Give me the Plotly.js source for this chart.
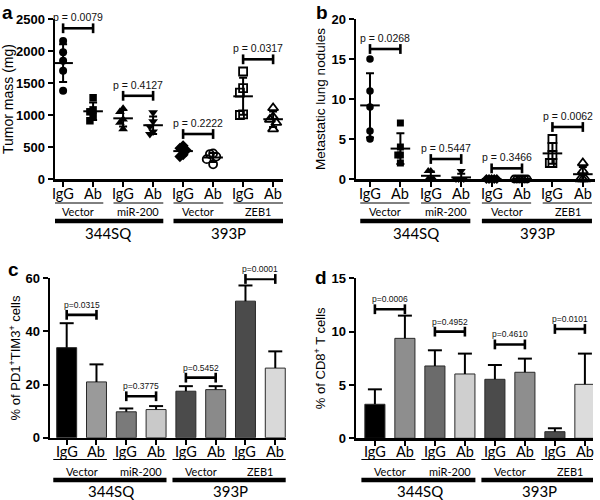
<!DOCTYPE html>
<html>
<head>
<meta charset="utf-8">
<script src="https://cdn.plot.ly/plotly-3.0.1.min.js"></script>
<style>html,body{margin:0;padding:0;background:#fff}#chart{width:600px;height:500px}</style>
</head>
<body>
<div id="chart"></div>
<script>
// ---------- categories / labels ----------
const treatLabels = ["IgG","Ab","IgG","Ab","IgG","Ab","IgG","Ab"];
const pairLabels = ["Vector","miR-200","Vector","ZEB1"];
const lineLabels = ["344SQ","393P"];

// ---------- panel a: tumor mass (mg), individual mice ----------
const massSQVecIgG = [2156,1979,1849,1693,1380];
const massSQVecAb  = [1270,1080,1050,980,910];
const massSQMirIgG = [1100,1050,930,880,780];
const massSQMirAb  = [1040,900,820,740,700];
const massPVecIgG  = [520,480,450,380,350];
const massPVecAb   = [400,390,350,310,230];
const massPZebIgG  = [1680,1420,1350,1010,1000];
const massPZebAb   = [1110,970,930,880,780];
const massP = ["p = 0.0079","p = 0.4127","p = 0.2222","p = 0.0317"];
const massBracket = [2355,1300,703,1870];

// ---------- panel b: metastatic lung nodules ----------
const nodSQVecIgG = [15,11,9,6,5];
const nodSQVecAb  = [7,4,3,3,2];
const nodSQMirIgG = [1,1,0,0,0];
const nodSQMirAb  = [1,0,0,0,0];
const nodPVecIgG  = [0,0,0,0,0];
const nodPVecAb   = [0,0,0,0,0,0];
const nodPZebIgG  = [5,4,3,2,2];
const nodPZebAb   = [2,1,0,0,0];
const nodP = ["p = 0.0268","p = 0.5447","p = 0.3466","p = 0.0062"];
const nodBracket = [16.25,2.5,1.33,6.5];

// ---------- panel c: % PD1+TIM3+ cells (mean, error) ----------
const pdMean = [33.9,21.0,9.75,10.6,17.5,18.1,51.4,26.2];
const pdErr  = [9.2,6.6,1.25,1.3,1.9,1.3,5.9,6.3];
const pdP = ["p=0.0315","p=0.3775","p=0.5452","p=0.0001"];
const pdBracket = [46.25,15.6,22.6,59.75];

// ---------- panel d: % CD8+ T cells ----------
const cdMean = [3.19,9.37,6.78,6.03,5.53,6.19,0.62,5.06];
const cdErr  = [1.40,2.13,1.47,1.91,1.34,1.28,0.32,2.88];
const cdP = ["p=0.0006","p=0.4952","p=0.4610","p=0.0101"];
const cdBracket = [12.1,10.0,8.8,10.25];

// ---------- styles ----------
const symbols = ['circle','square','triangle-up','triangle-down','diamond','circle-open','square-open','triangle-up-open'];
const symSizesA = [8,7.5,8.5,8.5,8.5,8,8,9];
const symSizesB = [7.5,7,8,8,7.5,7,8,9];
const barColorsC = ['#000000','#9a9a9a','#7a7a7a','#c9c9c9','#4b4b4b','#8a8a8a','#4b4b4b','#d9d9d9'];
const barColorsD = ['#000000','#8e8e8e','#6b6b6b','#cfcfcf','#4b4b4b','#8e8e8e','#4b4b4b','#dcdcdc'];

const cats = treatLabels.map((_, i) => i);
const mean = a => a.reduce((s, v) => s + v, 0) / a.length;
const sd = a => { const m = mean(a); return Math.sqrt(a.reduce((s, v) => s + (v - m) * (v - m), 0) / (a.length - 1)); };

// simple collision-avoiding horizontal spread (in category units)
function swarm(vals, pxPerY, pxPerX, step, diam) {
  const placed = []; const offs = new Array(vals.length).fill(0);
  const order = vals.map((v, i) => i).sort((a, b) => vals[b] - vals[a]);
  for (const i of order) {
    const ypx = vals[i] * pxPerY;
    for (let k = 0; k < 60; k++) {
      const c = (k === 0 ? 0 : (k % 2 ? -Math.ceil(k / 2) : Math.ceil(k / 2))) * step;
      const ok = placed.every(p => Math.abs(p.y - ypx) >= diam * 0.8 || Math.abs(p.x - c) >= step * 0.99);
      if (ok) { placed.push({x: c, y: ypx}); offs[i] = c / pxPerX; break; }
    }
  }
  return offs;
}

const traces = [];
function scatterPanel(groups, sizes, xa, ya, pxPerY, pxPerX, step) {
  groups.forEach((g, i) => {
    const offs = swarm(g, pxPerY, pxPerX, step, 8);
    traces.push({
      type: 'scatter', mode: 'markers', xaxis: xa, yaxis: ya, cliponaxis: false,
      x: g.map((v, j) => i + offs[j]), y: g, hoverinfo: 'y',
      marker: {symbol: symbols[i], size: sizes[i], color: '#000',
               line: {color: '#000', width: symbols[i].endsWith('open') ? 1.8 : 0}},
      showlegend: false
    });
  });
  traces.push({
    type: 'scatter', mode: 'markers', xaxis: xa, yaxis: ya, cliponaxis: false,
    x: cats, y: groups.map(mean),
    error_y: {type: 'data', array: groups.map(sd), visible: true, color: '#000', thickness: 2, width: 4},
    marker: {symbol: 'line-ew', size: 14, color: '#000', line: {color: '#000', width: 2}},
    showlegend: false
  });
}
function barPanel(means, errs, colors, xa, ya) {
  traces.push({
    type: 'bar', xaxis: xa, yaxis: ya, x: cats, y: means, width: 0.67,
    marker: {color: colors, line: {color: '#2a2a2a', width: 1}}, showlegend: false
  });
  traces.push({
    type: 'scatter', mode: 'markers', xaxis: xa, yaxis: ya, cliponaxis: false,
    x: cats, y: means.map((m, i) => m + errs[i]),
    error_y: {type: 'data', symmetric: false, array: errs.map(() => 0), arrayminus: errs,
              visible: true, color: '#000', thickness: 2, width: 0},
    marker: {symbol: 'line-ew', size: 10, color: '#000', line: {color: '#000', width: 2}},
    showlegend: false
  });
}
const annotations = [];
function brackets(hs, texts, xa, ya, fsize) {
  const bx = [], by = [];
  hs.forEach((h, k) => { bx.push(2 * k, 2 * k + 1, null); by.push(h, h, null); });
  traces.push({
    type: 'scatter', mode: 'lines+markers', xaxis: xa, yaxis: ya, cliponaxis: false,
    x: bx, y: by, line: {color: '#000', width: 2.6},
    marker: {symbol: 'line-ns', size: 7, color: '#000', line: {color: '#000', width: 2.6}},
    hoverinfo: 'skip', showlegend: false
  });
  hs.forEach((h, k) => annotations.push({
    xref: xa, yref: ya, x: 2 * k + 0.5, y: h, yanchor: 'bottom', yshift: 3, showarrow: false,
    text: texts[k], font: {family: 'Liberation Sans, Arial', size: fsize, color: '#111'}
  }));
}

scatterPanel([massSQVecIgG, massSQVecAb, massSQMirIgG, massSQMirAb, massPVecIgG, massPVecAb, massPZebIgG, massPZebAb], symSizesA, 'x', 'y', 160 / 2500, 30, 3.2);
brackets(massBracket, massP, 'x', 'y', 10.5);
scatterPanel([nodSQVecIgG, nodSQVecAb, nodSQMirIgG, nodSQMirAb, nodPVecIgG, nodPVecAb, nodPZebIgG, nodPZebAb], symSizesB, 'x2', 'y2', 160 / 20, 30.4, 2.6);
brackets(nodBracket, nodP, 'x2', 'y2', 10.5);
barPanel(pdMean, pdErr, barColorsC, 'x3', 'y3');
brackets(pdBracket, pdP, 'x3', 'y3', 8.5);
barPanel(cdMean, cdErr, barColorsD, 'x4', 'y4');
brackets(cdBracket, cdP, 'x4', 'y4', 8.5);

// ---------- category labels, group lines and texts under the x axes ----------
const shapes = [];
function groupLabels(xa, yTreat, yThin, yPair, yThick, yLine, lo, hi) {
  treatLabels.forEach((t, i) => annotations.push({
    xref: xa, yref: 'paper', x: i, y: 1 - yTreat / 500, yanchor: 'middle', showarrow: false,
    text: t, font: {family: 'Lato, Open Sans', size: 14.5, color: '#000'}
  }));
  for (let k = 0; k < 4; k++) {
    shapes.push({type: 'line', xref: xa, yref: 'paper', x0: 2 * k + lo, x1: 2 * k + 1 + hi,
                 y0: 1 - yThin / 500, y1: 1 - yThin / 500, line: {color: '#000', width: 1}});
    annotations.push({xref: xa, yref: 'paper', x: 2 * k + 0.5, y: 1 - yPair / 500, yanchor: 'middle',
                      showarrow: false, text: pairLabels[k], font: {family: 'Lato, Open Sans', size: 11, color: '#000'}});
  }
  for (let k = 0; k < 2; k++) {
    shapes.push({type: 'line', xref: xa, yref: 'paper', x0: 4 * k + lo, x1: 4 * k + 3 + hi,
                 y0: 1 - yThick / 500, y1: 1 - yThick / 500, line: {color: '#000', width: 4.5}});
    annotations.push({xref: xa, yref: 'paper', x: 4 * k + 1.5, y: 1 - yLine / 500, yanchor: 'middle',
                      showarrow: false, text: lineLabels[k], font: {family: 'Lato, Open Sans', size: 15, color: '#000'}});
  }
}
groupLabels('x', 193, 203, 211.5, 221, 233, -0.32, 0.34);
groupLabels('x2', 193, 203, 211.5, 221, 233, -0.32, 0.30);
groupLabels('x3', 451, 459.5, 471, 480, 490.5, -0.45, 0.35);
groupLabels('x4', 451, 459.5, 471, 480, 490.5, -0.45, 0.35);

// panel letters
[['a', 7, 12], ['b', 322, 12], ['c', 13, 269], ['d', 321, 277]].forEach(([t, px, py]) => annotations.push({
  xref: 'paper', yref: 'paper', x: px / 600, y: 1 - py / 500, xanchor: 'center', yanchor: 'middle',
  showarrow: false, text: t, font: {family: 'Liberation Sans, Arial', size: 19, weight: 700, color: '#000'}
}));

function xAxis(dom, rng, anchor) {
  return {domain: dom, range: rng, anchor: anchor, tickmode: 'array', tickvals: cats,
          showticklabels: false,
          showline: true, linewidth: 2.5, linecolor: '#000', ticks: 'outside', ticklen: 5, tickwidth: 2,
          tickcolor: '#000', showgrid: false, zeroline: false, fixedrange: true};
}
function yAxis(dom, rng, tv, anchor, title, standoff, tsize) {
  return {domain: dom, range: rng, anchor: anchor, tickmode: 'array', tickvals: tv,
          showline: true, linewidth: 2.5, linecolor: '#000', ticks: 'outside', ticklen: 5, tickwidth: 2,
          tickcolor: '#000', showgrid: false, zeroline: false, fixedrange: true,
          tickfont: {family: 'Liberation Sans, Arial', size: 13, weight: 700, color: '#000'},
          title: {text: title, standoff: standoff, font: {family: 'Liberation Sans, Arial', size: tsize, color: '#000'}}};
}

const layout = {
  width: 600, height: 500, margin: {l: 0, r: 0, t: 0, b: 0},
  paper_bgcolor: '#fff', plot_bgcolor: 'rgba(0,0,0,0)', showlegend: false,
  xaxis:  xAxis([55 / 600, 283 / 600], [-0.27, 7.33], 'y'),
  yaxis:  yAxis([1 - 179 / 500, 1 - 19 / 500], [0, 2500], [0, 500, 1000, 1500, 2000, 2500], 'x', 'Tumor mass (mg)', 4, 14),
  xaxis2: xAxis([356 / 600, 595 / 600], [-0.46, 7.4], 'y2'),
  yaxis2: yAxis([1 - 179 / 500, 1 - 19 / 500], [0, 20], [0, 5, 10, 15, 20], 'x2', 'Metastatic lung nodules', 3, 13.5),
  xaxis3: xAxis([50 / 600, 286 / 600], [-0.56, 7.36], 'y3'),
  yaxis3: yAxis([1 - 437.7 / 500, 1 - 278.3 / 500], [0, 60], [0, 20, 40, 60], 'x3', '% of PD1<sup>+</sup>TIM3<sup>+</sup> cells', 2, 13),
  xaxis4: xAxis([356 / 600, 593 / 600], [-0.63, 7.27], 'y4'),
  yaxis4: yAxis([1 - 438.3 / 500, 1 - 278.3 / 500], [0, 15], [0, 5, 10, 15], 'x4', '% of CD8<sup>+</sup> T cells', 3, 13),
  shapes: shapes, annotations: annotations
};
Plotly.newPlot('chart', traces, layout, {staticPlot: true, displayModeBar: false});
</script>
</body>
</html>
